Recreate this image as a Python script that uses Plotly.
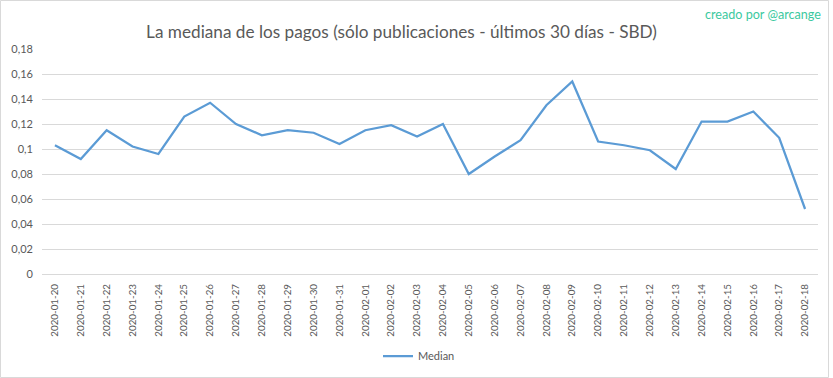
import plotly.graph_objects as go

dates = ["2020-01-20", "2020-01-21", "2020-01-22", "2020-01-23", "2020-01-24",
         "2020-01-25", "2020-01-26", "2020-01-27", "2020-01-28", "2020-01-29",
         "2020-01-30", "2020-01-31", "2020-02-01", "2020-02-02", "2020-02-03",
         "2020-02-04", "2020-02-05", "2020-02-06", "2020-02-07", "2020-02-08",
         "2020-02-09", "2020-02-10", "2020-02-11", "2020-02-12", "2020-02-13",
         "2020-02-14", "2020-02-15", "2020-02-16", "2020-02-17", "2020-02-18"]
median = [0.103, 0.092, 0.115, 0.102, 0.096, 0.126, 0.137, 0.120, 0.111, 0.115,
          0.113, 0.104, 0.115, 0.119, 0.110, 0.120, 0.080, 0.094, 0.107, 0.135,
          0.154, 0.106, 0.103, 0.099, 0.084, 0.122, 0.122, 0.130, 0.109, 0.052]
y_tickvals = [0, 0.02, 0.04, 0.06, 0.08, 0.10, 0.12, 0.14, 0.16, 0.18]
y_ticktext = ["0", "0,02", "0,04", "0,06", "0,08", "0,1", "0,12", "0,14", "0,16", "0,18"]

title_text = "La mediana de los pagos (sólo publicaciones - últimos 30 días - SBD)"
credit_text = "creado por @arcange"

W, H = 833, 378
L, R, T, B = 42, 15, 49, 104
pw, ph = W - L - R, H - T - B

def px_x(p):
    return (p - L) / pw

def px_y(p):
    return (H - B - p) / ph

grey = "#595959"
font_family = "Lato, 'Open Sans', sans-serif"

fig = go.Figure()
fig.add_trace(go.Scatter(
    x=dates, y=median, mode="lines", name="Median",
    line=dict(color="#5b9bd5", width=2.25),
))

fig.update_layout(
    width=W, height=H, autosize=False,
    margin=dict(l=L, r=R, t=T, b=B, autoexpand=False),
    paper_bgcolor="white", plot_bgcolor="white",
    font=dict(family=font_family, color=grey, size=11),
    title=dict(text=title_text, x=401.5 / W, xref="container", xanchor="center",
               y=1 - 31.5 / H, yref="container", yanchor="middle",
               font=dict(family=font_family, size=17.2, color=grey)),
    showlegend=True,
    legend=dict(orientation="h", x=px_x(419), xanchor="center",
                y=px_y(356), yanchor="middle",
                font=dict(size=11, color=grey), bgcolor="rgba(0,0,0,0)"),
    xaxis=dict(type="category", range=[-0.5, len(dates) - 0.5], automargin=False,
               showgrid=False, showline=False, zeroline=False,
               tickangle=-90, ticks="", ticklabelstandoff=7,
               tickfont=dict(size=9.8, color=grey)),
    yaxis=dict(range=[0, 0.18], tickvals=y_tickvals, ticktext=y_ticktext,
               automargin=False,
               showgrid=True, gridcolor="#d9d9d9", gridwidth=1,
               zeroline=True, zerolinecolor="#d9d9d9", zerolinewidth=1,
               showline=False, ticks="", ticklabelstandoff=8,
               tickfont=dict(size=11, color=grey)),
    annotations=[dict(text=credit_text, xref="paper", yref="paper",
                      x=px_x(823), y=px_y(14.5), xanchor="right", yanchor="middle",
                      showarrow=False,
                      font=dict(family=font_family, size=12.6, color="#3cc9a0"))],
    shapes=[dict(type="rect", xref="paper", yref="paper",
                 x0=px_x(0.5), x1=px_x(828.5), y0=px_y(377.5), y1=px_y(0.5),
                 line=dict(color="#d9d9d9", width=1), fillcolor="rgba(0,0,0,0)",
                 layer="below")],
)

fig.write_html("out.html", config={"displayModeBar": False},
               post_script="document.body.style.margin='0';document.body.style.overflow='hidden';")
